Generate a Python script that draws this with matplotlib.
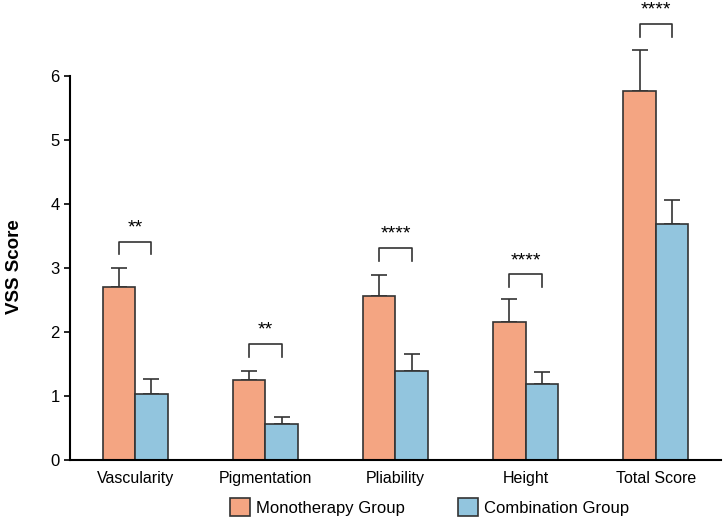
import numpy as np
import matplotlib.pyplot as plt

categories = ["Vascularity", "Pigmentation", "Pliability", "Height", "Total Score"]
mono = [2.70, 1.25, 2.56, 2.16, 5.76]
mono_err = [0.30, 0.14, 0.33, 0.35, 0.64]
combo = [1.03, 0.56, 1.39, 1.19, 3.68]
combo_err = [0.24, 0.11, 0.26, 0.19, 0.38]
stars = ["**", "**", "****", "****", "****"]
bracket_y = [3.41, 1.81, 3.31, 2.90, 6.81]

plt.rcParams['font.family'] = ['Liberation Sans', 'DejaVu Sans']

fig = plt.figure(figsize=(7.26, 5.28), dpi=100)
ax = fig.add_axes([0.0964, 0.1288, 0.8966, 0.8712])

x = np.arange(len(categories))
w = 0.25
ec = '#333333'
ax.bar(x - w/2, mono, w, color='#F4A582', edgecolor=ec, linewidth=1.2,
       label='Monotherapy Group', zorder=2)
ax.bar(x + w/2, combo, w, color='#92C5DE', edgecolor=ec, linewidth=1.2,
       label='Combination Group', zorder=2)

# upper-only error bars
ax.errorbar(x - w/2, mono, yerr=[np.zeros(5), mono_err], fmt='none',
            ecolor=ec, elinewidth=1.2, capsize=6, capthick=1.2, zorder=1)
ax.errorbar(x + w/2, combo, yerr=[np.zeros(5), combo_err], fmt='none',
            ecolor=ec, elinewidth=1.2, capsize=6, capthick=1.2, zorder=1)

for xi, by, s in zip(x, bracket_y, stars):
    ax.plot([xi - w/2, xi - w/2, xi + w/2, xi + w/2],
            [by - 0.2, by, by, by - 0.2], color=ec, lw=1.2, clip_on=False)
    ax.text(xi, by + 0.08, s, ha='center', va='bottom', fontsize=14,
            clip_on=False)

ax.set_xlim(-0.5, 4.5)
ax.set_ylim(0, 7.18)
ax.set_yticks(range(7))
ax.set_xticks(x)
ax.set_xticklabels(categories, fontsize=11.5)
ax.tick_params(axis='x', length=0, pad=8)
ax.tick_params(axis='y', labelsize=12, length=4, width=1.2)
ax.set_ylabel("VSS Score", fontsize=13.5, fontweight='bold')
ax.yaxis.set_label_coords(-0.072, 0.42)

for side in ['top', 'right']:
    ax.spines[side].set_visible(False)
ax.spines['left'].set_bounds(0, 6)
ax.spines['left'].set_linewidth(1.5)
ax.spines['bottom'].set_linewidth(1.5)

fig.legend(loc='lower center', bbox_to_anchor=(0.592, -0.005), ncol=2,
           frameon=False, fontsize=12, handlelength=1.2, handleheight=1.2,
           handletextpad=0.35, columnspacing=3.2)

fig.savefig("out.png", dpi=100)
